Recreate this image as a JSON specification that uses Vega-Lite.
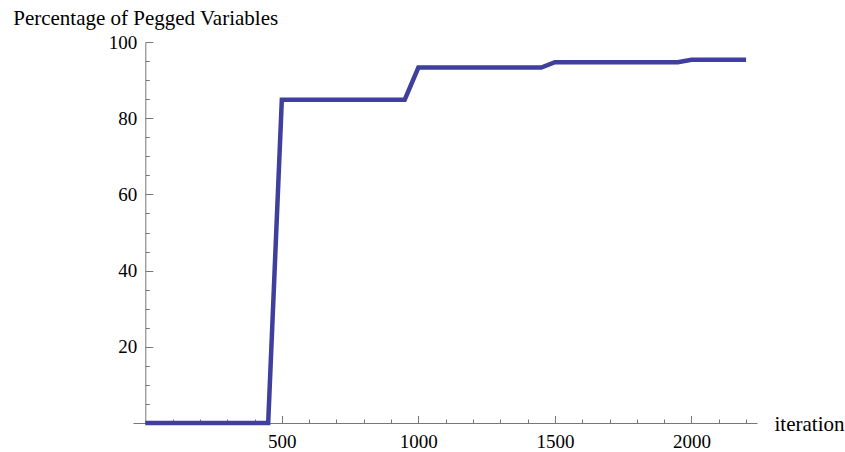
{
  "$schema": "https://vega.github.io/schema/vega-lite/v6.json",
  "autosize": {"type": "none"},
  "width": 624,
  "height": 381,
  "padding": {"left": 133, "top": 42, "right": 88, "bottom": 29},
  "background": "white",
  "config": {
    "font": "Liberation Serif",
    "view": {"stroke": null},
    "axis": {"grid": false, "labelFont": "Liberation Serif", "titleFont": "Liberation Serif", "labelColor": "black", "titleColor": "black", "domainColor": "#777777", "tickColor": "#777777", "labelFontSize": 19, "titleFontSize": 21, "titleFontWeight": "normal"}
  },
  "data": {"values": [
    {"iteration": 0, "pct": 0}, {"iteration": 50, "pct": 0}, {"iteration": 100, "pct": 0}, {"iteration": 150, "pct": 0},
    {"iteration": 200, "pct": 0}, {"iteration": 250, "pct": 0}, {"iteration": 300, "pct": 0}, {"iteration": 350, "pct": 0},
    {"iteration": 400, "pct": 0}, {"iteration": 450, "pct": 0},
    {"iteration": 500, "pct": 84.85}, {"iteration": 550, "pct": 84.85}, {"iteration": 600, "pct": 84.85}, {"iteration": 650, "pct": 84.85},
    {"iteration": 700, "pct": 84.85}, {"iteration": 750, "pct": 84.85}, {"iteration": 800, "pct": 84.85}, {"iteration": 850, "pct": 84.85},
    {"iteration": 900, "pct": 84.85}, {"iteration": 950, "pct": 84.85},
    {"iteration": 1000, "pct": 93.3}, {"iteration": 1050, "pct": 93.3}, {"iteration": 1100, "pct": 93.3}, {"iteration": 1150, "pct": 93.3},
    {"iteration": 1200, "pct": 93.3}, {"iteration": 1250, "pct": 93.3}, {"iteration": 1300, "pct": 93.3}, {"iteration": 1350, "pct": 93.3},
    {"iteration": 1400, "pct": 93.3}, {"iteration": 1450, "pct": 93.3},
    {"iteration": 1500, "pct": 94.7}, {"iteration": 1550, "pct": 94.7}, {"iteration": 1600, "pct": 94.7}, {"iteration": 1650, "pct": 94.7},
    {"iteration": 1700, "pct": 94.7}, {"iteration": 1750, "pct": 94.7}, {"iteration": 1800, "pct": 94.7}, {"iteration": 1850, "pct": 94.7},
    {"iteration": 1900, "pct": 94.7}, {"iteration": 1950, "pct": 94.7},
    {"iteration": 2000, "pct": 95.35}, {"iteration": 2050, "pct": 95.35}, {"iteration": 2100, "pct": 95.35}, {"iteration": 2150, "pct": 95.35},
    {"iteration": 2200, "pct": 95.35}
  ]},
  "resolve": {"axis": {"x": "independent", "y": "independent"}},
  "layer": [
    {
      "mark": {"type": "line", "strokeOpacity": 0},
      "encoding": {
        "x": {"field": "iteration", "type": "quantitative", "scale": {"domain": [-45, 2240], "nice": false, "zero": false},
          "axis": {"orient": "bottom", "title": null, "labels": false, "domain": false, "tickSize": -4, "values": [100,200,300,400,600,700,800,900,1100,1200,1300,1400,1600,1700,1800,1900,2100,2200]}},
        "y": {"field": "pct", "type": "quantitative", "scale": {"domain": [0, 100], "nice": false},
          "axis": {"orient": "left", "offset": -12.3, "title": null, "labels": false, "domain": false, "tickSize": -4, "values": [5,10,15,25,30,35,45,50,55,65,70,75,85,90,95]}}
      }
    },
    {
      "mark": {"type": "line", "color": "#3f3f9e", "strokeWidth": 4.5},
      "encoding": {
        "x": {"field": "iteration", "type": "quantitative", "scale": {"domain": [-45, 2240], "nice": false, "zero": false},
          "axis": {"orient": "bottom", "title": "iteration", "format": "d", "values": [500, 1000, 1500, 2000], "tickSize": -7.5, "labelPadding": 17,
            "titleX": 641, "titleY": 7, "titleAlign": "left", "titleBaseline": "alphabetic", "titleAnchor": null}},
        "y": {"field": "pct", "type": "quantitative", "scale": {"domain": [0, 100], "nice": false},
          "axis": {"orient": "left", "offset": -12.3, "title": "Percentage of Pegged Variables", "format": "d", "values": [20, 40, 60, 80, 100], "tickSize": -7.5, "labelPadding": 16,
            "titleAngle": 0, "titleX": -132.6, "titleY": -18, "titleAlign": "left", "titleBaseline": "alphabetic", "titleAnchor": null}}
      }
    }
  ]
}
